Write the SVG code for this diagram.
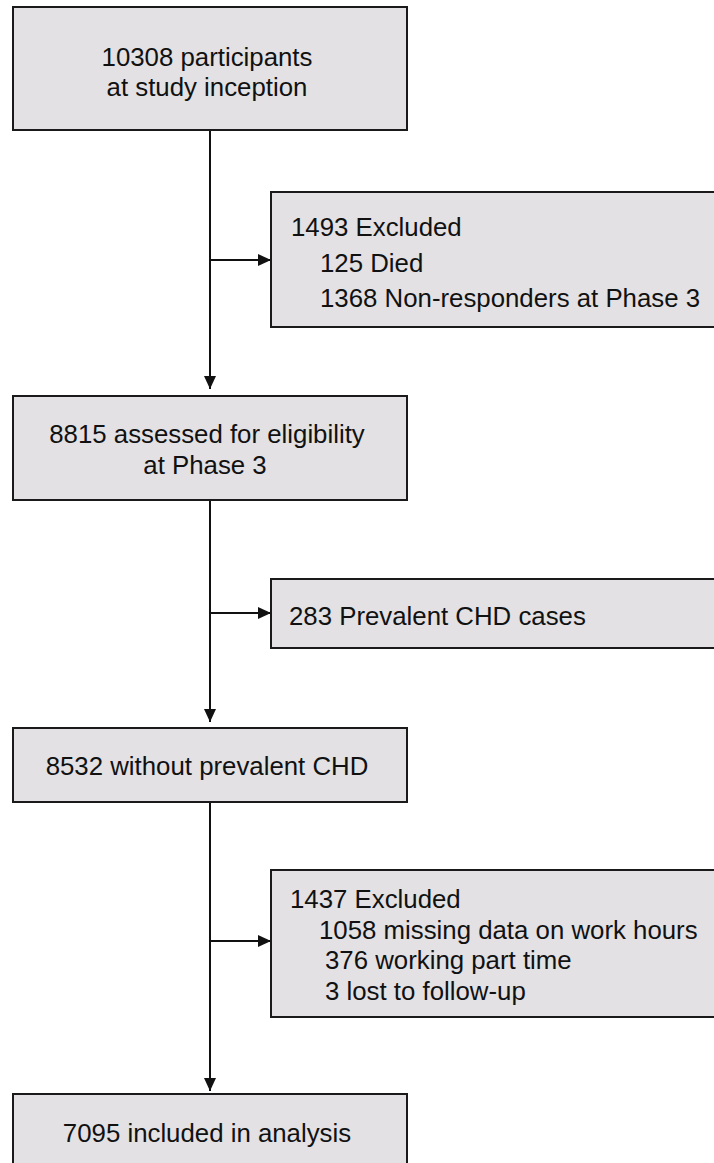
<svg xmlns="http://www.w3.org/2000/svg" width="714" height="1163" viewBox="0 0 714 1163">
<style>
.box{fill:#e3e1e4;stroke:#1a1a1a;stroke-width:2}
.t{font-family:"Liberation Sans",Arial,sans-serif;font-size:25.8px;fill:#111}
.c{text-anchor:middle}
.ln{stroke:#111;stroke-width:2;fill:none}
</style>
<defs>
<marker id="ah" markerWidth="13" markerHeight="13" refX="13" refY="6.5" orient="auto" markerUnits="userSpaceOnUse">
<path d="M0,0.5 L13,6.5 L0,12.5 Z" fill="#111"/>
</marker>
</defs>
<g id="connectors">
<line class="ln" x1="210" y1="130" x2="210" y2="389" marker-end="url(#ah)"/>
<line class="ln" x1="210" y1="260" x2="271" y2="260" marker-end="url(#ah)"/>
<line class="ln" x1="210" y1="500" x2="210" y2="722" marker-end="url(#ah)"/>
<line class="ln" x1="210" y1="613" x2="271" y2="613" marker-end="url(#ah)"/>
<line class="ln" x1="210" y1="802" x2="210" y2="1091" marker-end="url(#ah)"/>
<line class="ln" x1="210" y1="941" x2="271" y2="941" marker-end="url(#ah)"/>
</g>
<g id="n1">
<rect class="box" x="13" y="7" width="394" height="123"/>
<text class="t c" x="207" y="66">10308 participants</text>
<text class="t c" x="207" y="96">at study inception</text>
</g>
<g id="n2">
<rect class="box" x="271" y="192" width="460" height="135"/>
<text class="t" x="291" y="236">1493 Excluded</text>
<text class="t" x="320" y="272">125 Died</text>
<text class="t" x="320" y="307">1368 Non-responders at Phase 3</text>
</g>
<g id="n3">
<rect class="box" x="13" y="396" width="394" height="104"/>
<text class="t c" x="207" y="443">8815 assessed for eligibility</text>
<text class="t c" x="205" y="474">at Phase 3</text>
</g>
<g id="n4">
<rect class="box" x="271" y="579" width="460" height="69"/>
<text class="t" x="289" y="625">283 Prevalent CHD cases</text>
</g>
<g id="n5">
<rect class="box" x="13" y="728" width="394" height="74"/>
<text class="t c" x="207" y="775">8532 without prevalent CHD</text>
</g>
<g id="n6">
<rect class="box" x="271" y="870" width="460" height="147"/>
<text class="t" x="290" y="908">1437 Excluded</text>
<text class="t" x="319" y="939">1058 missing data on work hours</text>
<text class="t" x="325" y="969">376 working part time</text>
<text class="t" x="325" y="1000">3 lost to follow-up</text>
</g>
<g id="n7">
<rect class="box" x="13" y="1094" width="394" height="100"/>
<text class="t c" x="207" y="1142">7095 included in analysis</text>
</g>
</svg>
